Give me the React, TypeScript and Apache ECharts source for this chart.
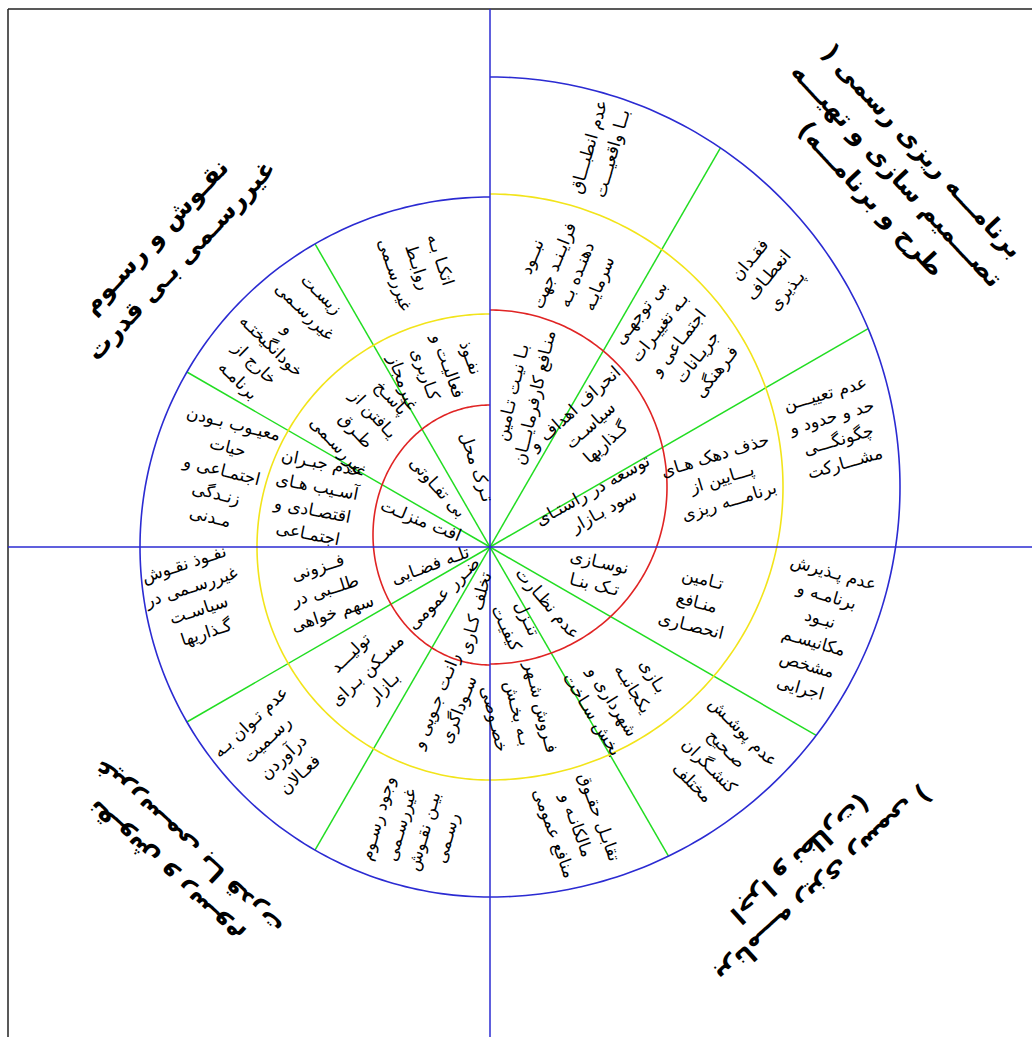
import React, { useEffect, useRef } from "react";
import * as echarts from "echarts";

// ---------- DATA (labels) ----------
// sectors are numbered 0..11 counter-clockwise from the east, 30 degrees each
const sectorAngles = [0, 30, 60, 90, 120, 150, 180, 210, 240, 270, 300, 330];

const innerRing = [
  "توسعه در راستـای\nسود بـازار",
  "انحراف اهداف و\nسیاسـت\nگـذاریها",
  "بـا نیـت تـامین\nمنـافع کارفرمایـــان",
  "تـرک محل",
  "بی تفـاوتی",
  "افت منزلـت",
  "تلـه فضـایی",
  "ضـرر عمومی",
  "تخلف کـاری",
  "تنـزل\nکیفیـت",
  "عدم نظـارت",
  "نوسـازی\nتـک بنـا",
];

const middleRing = [
  "حذف دهک هـای\nپـــایین از\nبرنامـــه ریزی",
  "بی توجهـی\nبـه تغییـرات\nاجتمـاعی و\nجریـانات\nفـرهنگی",
  "نبــود\nفرایـنـد جهت\nدهنـده بـه\nسرمایـه",
  "نفـوذ\nفعالیـت و\nکـاربری\nغیرمجاز",
  "پاسـخ\nیـافتن از\nطـرق\nغیررسـمی",
  "عدم جبـران\nآسـیب هـای\nاقتصـادی و\nاجتمـاعی",
  "فــزونی\nطلــبی در\nسهم خواهی",
  "تولیـــد\nمسـکن بـرای\nبـازار",
  "رانـت جـویی و\nسـوداگری",
  "فـروش شـهر\nبـه بخـش\nخصـوصی",
  "بـازی\nیکجانبـه\nشهرداری و\nبخش سـاخت",
  "تـامین\nمنـافع\nانحصـاری",
];

const outerRing = [
  "عدم تعییـــن\nحد و حدود و\nچگونگـــی\nمشـــارکت",
  "فقـدان\nانعطـاف\nپـذیری",
  "عدم انطبـــاق\nبــا واقعیـــت",
  "اتکـا بـه\nروابـط\nغیررسـمی",
  "زیسـت\nغیررسـمی\nو\nخودانگیختـه\nخارج از\nبرنامـه",
  "معیـوب بـودن\nحیات\nاجتمـاعی و\nزنـدگی\nمـدنی",
  "نفـوذ نقـوش\nغیررسـمی در\nسیاسـت\nگـذاریها",
  "عدم تـوان بـه\nرسـمیت\nدرآوردن\nفعـالان",
  "وجود رسـوم\nغیررسـمی\nبیـن نقـوش\nرسـمی",
  "تقابـل حقـوق\nمالکانـه و\nمنافع عمومی",
  "عدم پوشـش\nصـحیح\nکنشـگران\nمختلف",
  "عدم پـذیرش\nبرنامـه و\nنبـود\nمکانیسـم\nمشخص\nاجرایی",
];

const RLM = "\u200F";
const quadrantTitles = [
  RLM + "برنامـــه ریزی رسمی (" + RLM + "\nتصـــمیم سازی و تهیـــه\n" + RLM + "طرح و برنامـــه)" + RLM,
  "نقـوش و رسـوم\nغیررسـمی بـی قدرت",
  "نقـوش و رسـوم\nغیررسـمی بـا قدرت",
  RLM + "برنامـــه ریزی رسمی (" + RLM + "\n" + RLM + "اجرا و نظارت)" + RLM,
];

// ---------- LAYOUT (positions / styles) ----------
const W = 1032;
const H = 1037;
const O = { x: 490, y: 547 }; // crossing of the axes, origin of the radial lines

// right halves are circles centred above the origin, left halves around the origin
const rings = [
  { color: "#2b2bd2", right: { cx: 490, cy: 487, r: 410 }, left: { cx: 490, cy: 547, rx: 350, ry: 350 } },
  { color: "#f2e41a", right: { cx: 490, cy: 487, r: 293 }, left: { cx: 490, cy: 547, rx: 233, ry: 233 } },
  { color: "#e02424", right: { cx: 490, cy: 487, r: 177 }, left: { cx: 490, cy: 535, rx: 117, ry: 130 } },
];

// [x, y, rotationDeg]
const innerLayout = [
  [598, 500, 29], [590, 425, 42], [523, 395, 77], [477, 467, -71], [438, 487, -48], [421, 520, -22],
  [430, 565, 20], [443, 593, 45], [475, 613, 75], [517, 623, -65], [548, 603, -49], [597, 573, -13],
];
const middleLayout = [
  [722, 478, 17], [678, 342, 52], [565, 270, 68], [437, 370, -70], [365, 422, -47], [315, 498, -11],
  [325, 590, 18], [367, 670, 44], [447, 705, 68], [518, 713, -76], [623, 695, -58], [697, 602, -14],
];
const outerLayout = [
  [835, 428, 16], [768, 275, 50], [600, 150, 74], [418, 267, -72], [280, 337, -44], [222, 470, -14],
  [195, 598, 18], [275, 748, 43], [412, 828, 74], [577, 825, -70], [718, 757, -45], [817, 630, -16],
];
const titleLayout = [
  [897, 175, -47], [168, 248, 47], [176, 860, 137.3], [812, 872, 222.3],
];

const FONT = '"DejaVu Sans", sans-serif';

function arcPts(cx: number, cy: number, rx: number, ry: number, a0: number, a1: number) {
  const pts: number[][] = [];
  const n = 180;
  for (let i = 0; i <= n; i++) {
    const a = ((a0 + ((a1 - a0) * i) / n) * Math.PI) / 180;
    pts.push([cx + rx * Math.cos(a), cy - ry * Math.sin(a)]);
  }
  return pts;
}

function rayEnd(angleDeg: number) {
  const a = (angleDeg * Math.PI) / 180;
  const dx = Math.cos(a);
  const dy = -Math.sin(a);
  const blue = rings[0];
  if (dx > 0) {
    const c = blue.right;
    const px = O.x - c.cx;
    const py = O.y - c.cy;
    const b = px * dx + py * dy;
    const cc = px * px + py * py - c.r * c.r;
    const t = -b + Math.sqrt(b * b - cc);
    return [O.x + t * dx, O.y + t * dy];
  }
  const l = blue.left;
  return [O.x + l.rx * dx, O.y + l.ry * dy];
}

function buildElements() {
  const els: any[] = [];
  // frame
  els.push({ type: "line", shape: { x1: 8, y1: 9, x2: W, y2: 9 }, style: { stroke: "#222", lineWidth: 1.5 } });
  els.push({ type: "line", shape: { x1: 8, y1: 9, x2: 8, y2: H }, style: { stroke: "#222", lineWidth: 1.5 } });
  // green radial lines
  sectorAngles.forEach((ang) => {
    if (ang % 90 === 0) return;
    const [x2, y2] = rayEnd(ang);
    els.push({ type: "line", shape: { x1: O.x, y1: O.y, x2, y2 }, style: { stroke: "#22dd22", lineWidth: 1.5 } });
  });
  // rings
  rings.forEach((ring) => {
    const rr = ring.right;
    els.push({
      type: "polyline",
      shape: { points: arcPts(rr.cx, rr.cy, rr.r, rr.r, -90, 90) },
      style: { stroke: ring.color, lineWidth: 1.6, fill: null },
    });
    const ll = ring.left;
    els.push({
      type: "polyline",
      shape: { points: arcPts(ll.cx, ll.cy, ll.rx, ll.ry, 90, 270) },
      style: { stroke: ring.color, lineWidth: 1.6, fill: null },
    });
  });
  // axes
  els.push({ type: "line", shape: { x1: 8, y1: O.y, x2: W, y2: O.y }, style: { stroke: "#2b2bd2", lineWidth: 1.5 } });
  els.push({ type: "line", shape: { x1: O.x, y1: 9, x2: O.x, y2: H }, style: { stroke: "#2b2bd2", lineWidth: 1.5 } });

  const addTexts = (labels: string[], layout: number[][], size: number, lh: number, weight: string) => {
    labels.forEach((txt, i) => {
      const [x, y, rot] = layout[i];
      els.push({
        type: "text",
        x,
        y,
        rotation: (rot * Math.PI) / 180,
        style: {
          text: txt,
          fill: "#000",
          fontSize: size,
          fontFamily: FONT,
          fontWeight: weight,
          align: "center",
          verticalAlign: "middle",
          lineHeight: lh,
        },
      });
    });
  };
  addTexts(innerRing, innerLayout, 17, 23, "normal");
  addTexts(middleRing, middleLayout, 17, 24, "normal");
  addTexts(outerRing, outerLayout, 17, 24, "normal");
  addTexts(quadrantTitles, titleLayout, 25, 35, "bold");
  return els;
}

export default function App() {
  const ref = useRef<HTMLDivElement>(null);
  useEffect(() => {
    if (!ref.current) return;
    const chart = echarts.init(ref.current, undefined, { renderer: "svg" });
    chart.setOption({
      animation: false,
      backgroundColor: "#ffffff",
      graphic: { elements: buildElements() },
    });
    return () => chart.dispose();
  }, []);
  return (
    <div
      ref={ref}
      style={{ position: "absolute", left: 0, top: 0, width: W, height: H, background: "#fff" }}
    />
  );
}
